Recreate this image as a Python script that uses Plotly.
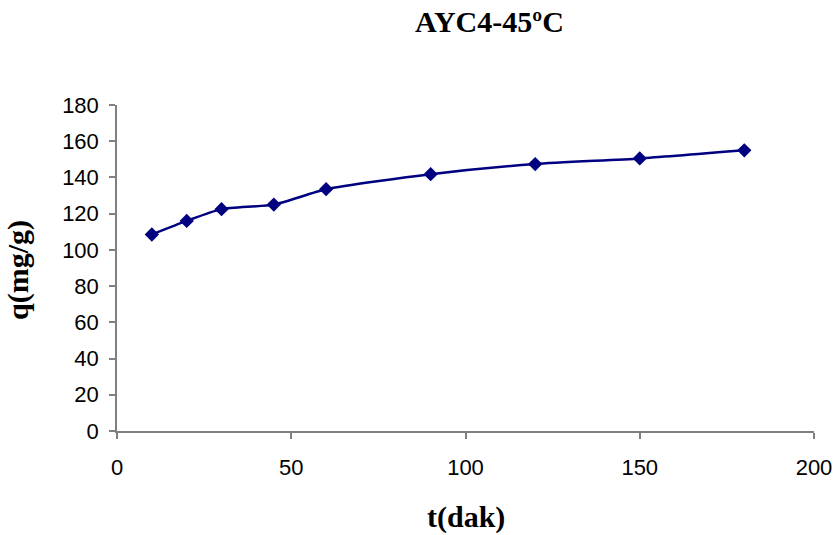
import plotly.graph_objects as go

t_min = [10, 20, 30, 45, 60, 90, 120, 150, 180]
q_mg_g = [108.5, 116, 122.5, 125, 133.5, 141.8, 147.4, 150.5, 155]
x_ticks = [0, 50, 100, 150, 200]
y_ticks = [0, 20, 40, 60, 80, 100, 120, 140, 160, 180]

W, H = 833, 535
L, R, T, B = 117, 19, 105, 104

fig = go.Figure()
fig.add_trace(go.Scatter(
    x=t_min, y=q_mg_g, mode="lines+markers",
    line=dict(color="#000080", width=2.5, shape="spline", smoothing=0.6),
    marker=dict(symbol="diamond", size=11, color="#000080"),
    showlegend=False, hoverinfo="x+y",
))

axis_common = dict(
    showgrid=False, zeroline=False, showline=True, linecolor="#808080", linewidth=1.5,
    ticks="outside", ticklen=6, tickcolor="#808080", tickwidth=1.5,
    tickfont=dict(family="Liberation Sans, Arial", size=22, color="#000"),
    ticklabeloverflow="allow", automargin=False,
)

title_font = dict(family="Liberation Serif, Times New Roman", size=30, color="#000")

fig.update_layout(
    width=W, height=H,
    margin=dict(l=L, r=R, t=T, b=B, autoexpand=False),
    paper_bgcolor="white", plot_bgcolor="white",
    xaxis=dict(range=[0, 200], tickvals=x_ticks, ticklabelstandoff=10, **axis_common),
    yaxis=dict(range=[0, 180], tickvals=y_ticks, ticklabelstandoff=6, **axis_common),
    annotations=[
        dict(text="<b>AYC4-45ºC</b>", xref="paper", yref="paper",
             x=(489 - L) / (W - L - R), y=1 + (T - 22) / (H - T - B),
             xanchor="center", yanchor="middle", showarrow=False, font=title_font),
        dict(text="<b>t(dak)</b>", xref="paper", yref="paper",
             x=(466 - L) / (W - L - R), y=-(517 - (H - B)) / (H - T - B),
             xanchor="center", yanchor="middle", showarrow=False, font=title_font),
        dict(text="<b>q(mg/g)</b>", xref="paper", yref="paper",
             x=-(L - 18) / (W - L - R), y=(H - B - 270) / (H - T - B),
             xanchor="center", yanchor="middle", showarrow=False, textangle=-90,
             font=title_font),
    ],
)

fig.write_html("out.html")
